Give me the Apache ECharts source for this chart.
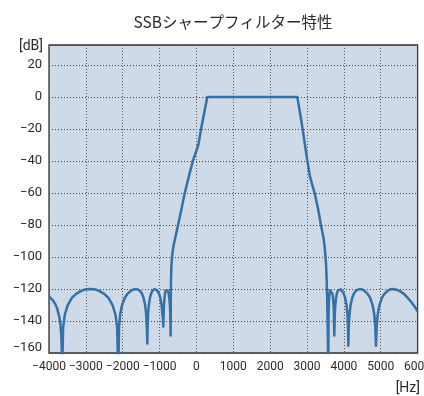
<!DOCTYPE html>
<html>
<head>
<meta charset="utf-8">
<script src="https://cdn.jsdelivr.net/npm/echarts@6/dist/echarts.min.js"></script>
<style>
  html, body { margin: 0; padding: 0; background: #ffffff; }
  #chart { width: 424px; height: 396px; }
</style>
</head>
<body>
<div id="chart"></div>
<script>
// Response of the SSB sharp filter, frequency in Hz and attenuation in dB.
const chartTitle = 'SSBシャープフィルター特性';
const yUnit = '[dB]';
const xUnit = '[Hz]';

const xTicks = [-4000, -3000, -2000, -1000, 0, 1000, 2000, 3000, 4000, 5000, 6000];
const yTicks = [-160, -140, -120, -100, -80, -60, -40, -20, 0, 20];

// Lower stopband ripple (left of the passband)
const lowerStopHz = [
  -4000, -3900, -3837, -3780, -3720, -3690, -3670, -3655, -3647,
  -3616, -3571, -3494, -3380, -3265, -3113, -2998, -2884, -2769, -2655, -2502, -2387, -2273, -2196, -2151, -2120,
  -2100, -2070, -2020, -1945, -1870, -1771, -1696, -1621, -1578, -1535, -1477, -1434, -1391, -1362, -1345, -1333,
  -1325, -1313, -1292, -1262, -1231, -1191, -1160, -1130, -1095, -1061, -1014, -980, -945, -922, -908, -899,
  -890, -881, -867, -853, -835, -807, -774, -752, -736, -720, -709, -700
];
const lowerStopDb = [
  -124.6, -127, -129, -132, -137.5, -142, -148, -156, -175,
  -144, -136.1, -130.2, -125.6, -123, -121, -120.2, -120, -120.2, -121, -123, -125.6, -130.2, -136.1, -144, -175,
  -144, -136.1, -130.2, -125.6, -123, -121, -120.2, -120, -120.2, -121, -123, -125.6, -130.2, -136.1, -144, -154,
  -144, -136.1, -130.2, -125.6, -123, -121, -120.2, -120, -120.2, -121, -123, -125.6, -130.2, -136.1, -139, -143.5,
  -136, -130.2, -125.6, -123, -121, -120.5, -121, -123, -125.6, -130.2, -136, -149
];

// Lower skirt rising into the passband
const lowerSkirtHz = [-697, -690, -680, -663, -645, -609, -560, -500, -410, -319, -210, -101, 51, 124, 295];
const lowerSkirtDb = [-130, -114.4, -106, -100.2, -96.5, -91.5, -86.5, -80.2, -70.5, -60.2, -50, -40.2, -30, -20.2, 0];

// Flat passband
const passHz = [2736];
const passDb = [0];

// Upper skirt falling out of the passband
const upperSkirtHz = [2828, 2882, 2991, 3081, 3208, 3306, 3379, 3442, 3479, 3515, 3533, 3550, 3565, 3578];
const upperSkirtDb = [-12.3, -20.2, -37.3, -49.8, -60.2, -70.6, -80.2, -87.3, -93.5, -104, -114.4, -130, -150, -175];

// Upper stopband ripple (right of the passband)
const upperStopHz = [
  3584, 3591, 3600, 3610, 3623, 3642, 3671, 3691, 3706, 3720, 3730, 3740,
  3745, 3754, 3767, 3788, 3808, 3835, 3856, 3876, 3913, 3950, 3998, 4035, 4072, 4097, 4111, 4121,
  4133, 4151, 4181, 4225, 4270, 4330, 4374, 4419, 4487, 4555, 4645, 4713, 4781, 4826, 4853, 4871,
  4889, 4917, 4963, 5032, 5100, 5192, 5261, 5330, 5450, 5550, 5650, 5750, 5850, 5950, 6000
];
const upperStopDb = [
  -136, -130.2, -125.6, -123, -121, -120.3, -121, -123, -125.6, -130.2, -136, -149,
  -144, -136.1, -130.2, -125.6, -123, -121, -120.2, -120, -120.2, -121, -123, -125.6, -130.2, -136.1, -144, -155.4,
  -144, -136.1, -130.2, -125.6, -123, -121, -120.2, -120, -120.2, -121, -123, -125.6, -130.2, -136.1, -144, -155.4,
  -144, -136.1, -130.2, -125.6, -123, -121, -120.2, -120, -120.6, -121.8, -123.5, -126, -128.8, -132, -134
];

function pairs(hz, db) { return hz.map((h, i) => [h, db[i]]); }
const curve = [].concat(
  pairs(lowerStopHz, lowerStopDb),
  pairs(lowerSkirtHz, lowerSkirtDb),
  pairs(passHz, passDb),
  pairs(upperSkirtHz, upperSkirtDb),
  pairs(upperStopHz, upperStopDb)
);

const minus = v => String(v).replace('-', '\u2212');
const textColor = '#2b2b2b';
const numFont = 'Roboto';

const chart = echarts.init(document.getElementById('chart'), null, { renderer: 'canvas' });
chart.setOption({
  animation: false,
  backgroundColor: '#ffffff',
  grid: {
    left: 49, right: 6.4, top: 45, bottom: 43,
    containLabel: false,
    outerBoundsMode: 'none',
    show: true,
    backgroundColor: '#cfdae8',
    borderColor: '#333333',
    borderWidth: 1.3
  },
  graphic: [
    { type: 'text', x: 233, y: 22,
      style: { text: chartTitle, font: '15.5px "Noto Sans CJK JP"', fill: textColor,
               align: 'center', verticalAlign: 'middle' } },
    { type: 'text', x: 43, y: 46,
      style: { text: yUnit, font: '14px ' + numFont, fill: textColor,
               align: 'right', verticalAlign: 'middle' } },
    { type: 'text', x: 420, y: 388,
      style: { text: xUnit, font: '14px ' + numFont, fill: textColor,
               align: 'right', verticalAlign: 'middle' } }
  ],
  xAxis: {
    type: 'value',
    min: xTicks[0], max: xTicks[xTicks.length - 1], interval: 1000,
    axisLine: { show: false },
    axisTick: { show: false },
    axisLabel: {
      margin: 8, color: textColor, fontFamily: numFont, fontSize: 12,
      hideOverlap: false,
      formatter: v => minus(v)
    },
    splitLine: { show: true, lineStyle: { color: '#555555', width: 1, type: [1, 2] } }
  },
  yAxis: {
    type: 'value',
    min: yTicks[0], max: 32.5, interval: 20,
    axisLine: { show: false },
    axisTick: { show: false },
    axisLabel: {
      margin: 7, color: textColor, fontFamily: numFont, fontSize: 13,
      showMaxLabel: false,
      formatter: v => v === yTicks[0] ? '{low|' + minus(v) + '}' : minus(v),
      rich: { low: { fontFamily: numFont, fontSize: 13, color: textColor, padding: [0, 0, 10, 0] } }
    },
    splitLine: { show: true, lineStyle: { color: '#444444', width: 1, type: [1, 2] } }
  },
  series: [{
    type: 'line',
    data: curve,
    showSymbol: false,
    clip: true,
    lineStyle: { color: '#3570a6', width: 2.5, join: 'round' }
  }]
});
</script>
</body>
</html>
